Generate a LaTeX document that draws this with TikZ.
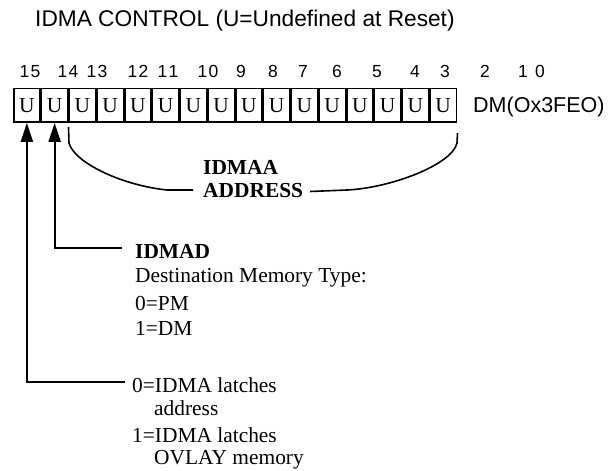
\documentclass[tikz,border=0pt]{standalone}
\usepackage{fontspec}
\setmainfont{Liberation Serif}
\newfontfamily\mysans{Liberation Sans}
\usetikzlibrary{arrows.meta}
\newcommand\mytitlefont{\mysans\fontsize{22.7}{27}\selectfont}
\newcommand\mybitfont{\mysans\fontsize{17.5}{20}\selectfont}
\newcommand\mydmfont{\mysans\fontsize{21.5}{25}\selectfont}
\newcommand\mytxtfont{\fontsize{21.4}{25}\selectfont}
\newcommand\dg{\kern1.5pt}
\begin{document}
\begin{tikzpicture}[x=1pt,y=-1pt,
  cellbox/.style={draw, line width=1.5pt, minimum width=26.25pt, minimum height=33.5pt, inner sep=0pt, font=\mytxtfont},
  bitlabel/.style={anchor=base, inner sep=0pt, font=\mybitfont},
  txt/.style={anchor=base west, inner sep=0pt, font=\mytxtfont},
  conn/.style={line width=1.8pt},
  arr/.style={-{Triangle[length=19pt,width=12pt]}},
  bracel/.style={line width=1.6pt}]
\useasboundingbox (0,0) rectangle (616,471);
% title
\node[anchor=base west, inner sep=0pt, font=\mytitlefont] (title) at (35,26) {IDMA CONTROL (U=Undefined at Reset)};
% bit numbers
\foreach \b/\t/\x in {15/{1\dg5}/30,14/{1\dg4}/68,13/{1\dg3}/97,12/{1\dg2}/138,11/{1\dg1}/168,10/{1\dg0}/208,9/9/241,8/8/273,7/7/303,6/6/337,5/5/377,4/4/415,3/3/445,2/2/485,1/1/523,0/0/540}
  \node[bitlabel] (b\b) at (\x,77) {\t};
% cells
\foreach \i in {1,...,16}
  \node[cellbox] (cell\i) at ({13+27.75*(\i-0.5)},105.25) {U};
\node[anchor=base west, inner sep=0pt, font=\mydmfont] (dm) at (473,112) {DM(Ox3FEO)};
% brace
\coordinate (bl) at (68.5,127);
\coordinate (blm) at (193,190);
\coordinate (brm) at (310,191.5);
\coordinate (br) at (457.5,133);
\node[txt, font=\mytxtfont\bfseries] (addr1) at (203,174) {IDMAA};
\node[txt, font=\mytxtfont\bfseries] (addr2) at (203,197) {ADDRESS};
\draw[bracel] (bl) -- (69,143) .. controls (74,162) and (120,185) .. (167,190) -- (blm);
\draw[bracel] (brm) -- (347,190) .. controls (390,188) and (452,165) .. (457,143) -- (br);
% IDMAD
\coordinate (e14) at (122,248);
\draw[conn,arr] (e14) -| (cell2.south);
\node[txt, font=\mytxtfont\bfseries] (idmad) at (135,258) {IDMAD};
\node[txt] (dest) at (135,282) {Destination Memory Type:};
\node[txt] (pm) at (135,310) {0=PM};
\node[txt] (dmv) at (135,335) {1=DM};
% bit 15
\coordinate (e15) at (125,382);
\draw[conn,arr] (e15) -| (cell1.south);
\node[txt] (l1) at (132,392) {0=IDMA latches};
\node[txt] (l2) at (154,415) {address};
\node[txt] (l3) at (132,442) {1=IDMA latches};
\node[txt] (l4) at (154,464) {OVLAY memory};
\end{tikzpicture}
\end{document}
